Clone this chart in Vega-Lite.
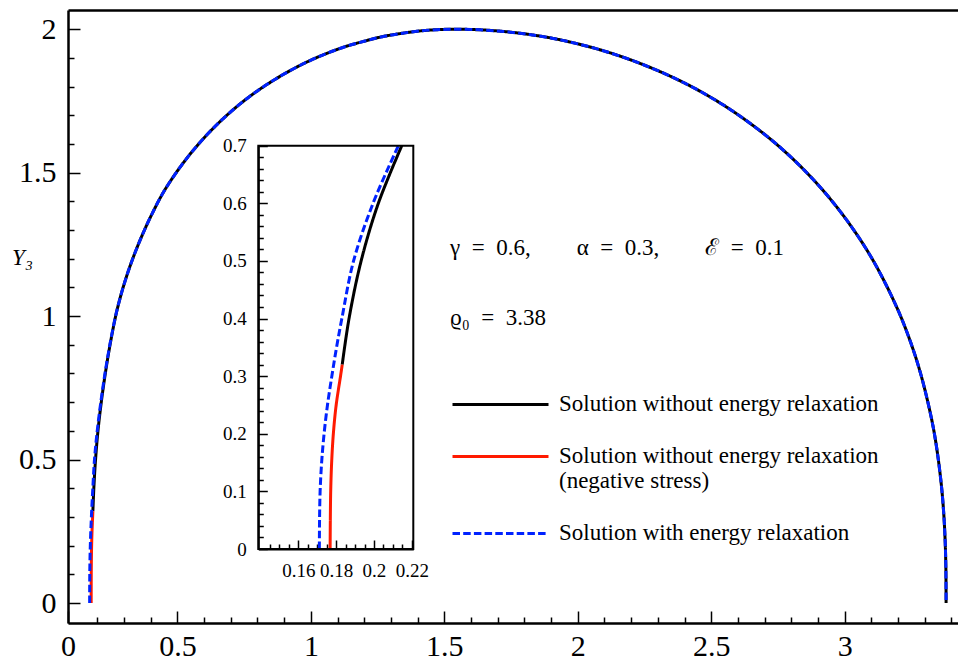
{
  "$schema": "https://vega.github.io/schema/vega-lite/v6.json",
  "width": 890,
  "height": 613,
  "autosize": "none",
  "padding": {"left": 68, "top": 10, "right": 0, "bottom": 39},
  "background": "white",
  "config": {
    "view": {"stroke": null},
    "text": {"font": "Liberation Serif"},
    "axis": {"domainColor": "black", "domainWidth": 2.5, "tickColor": "black", "tickWidth": 1.5, "labelColor": "black", "labelFont": "Liberation Serif", "grid": false, "titleColor": "black", "labelFlush": false, "labelOverlap": false, "labelBound": false},
    "legend": {"padding": 0}
  },
  "datasets": {
    "curve": [
      {"s": "Solution without energy relaxation", "x": 0.1832, "y": 0.32},
      {"s": "Solution without energy relaxation", "x": 0.1868, "y": 0.4},
      {"s": "Solution without energy relaxation", "x": 0.1932, "y": 0.5},
      {"s": "Solution without energy relaxation", "x": 0.2023, "y": 0.6},
      {"s": "Solution without energy relaxation", "x": 0.2147, "y": 0.7},
      {"s": "Solution without energy relaxation", "x": 0.2298, "y": 0.8},
      {"s": "Solution without energy relaxation", "x": 0.2475, "y": 0.9},
      {"s": "Solution without energy relaxation", "x": 0.2685, "y": 1.0},
      {"s": "Solution without energy relaxation", "x": 0.2815, "y": 1.05},
      {"s": "Solution without energy relaxation", "x": 0.2965, "y": 1.1},
      {"s": "Solution without energy relaxation", "x": 0.3135, "y": 1.15},
      {"s": "Solution without energy relaxation", "x": 0.3325, "y": 1.2},
      {"s": "Solution without energy relaxation", "x": 0.3535, "y": 1.25},
      {"s": "Solution without energy relaxation", "x": 0.3765, "y": 1.3},
      {"s": "Solution without energy relaxation", "x": 0.4015, "y": 1.35},
      {"s": "Solution without energy relaxation", "x": 0.4496, "y": 1.435},
      {"s": "Solution without energy relaxation", "x": 0.5178, "y": 1.529},
      {"s": "Solution without energy relaxation", "x": 0.5859, "y": 1.607},
      {"s": "Solution without energy relaxation", "x": 0.654, "y": 1.673},
      {"s": "Solution without energy relaxation", "x": 0.7222, "y": 1.73},
      {"s": "Solution without energy relaxation", "x": 0.7904, "y": 1.779},
      {"s": "Solution without energy relaxation", "x": 0.8585, "y": 1.821},
      {"s": "Solution without energy relaxation", "x": 0.9267, "y": 1.858},
      {"s": "Solution without energy relaxation", "x": 0.9948, "y": 1.89},
      {"s": "Solution without energy relaxation", "x": 1.063, "y": 1.917},
      {"s": "Solution without energy relaxation", "x": 1.131, "y": 1.94},
      {"s": "Solution without energy relaxation", "x": 1.1993, "y": 1.958},
      {"s": "Solution without energy relaxation", "x": 1.2674, "y": 1.974},
      {"s": "Solution without energy relaxation", "x": 1.3356, "y": 1.985},
      {"s": "Solution without energy relaxation", "x": 1.4037, "y": 1.9935},
      {"s": "Solution without energy relaxation", "x": 1.4719, "y": 1.9984},
      {"s": "Solution without energy relaxation", "x": 1.54, "y": 2.0},
      {"s": "Solution without energy relaxation", "x": 1.632, "y": 1.998},
      {"s": "Solution without energy relaxation", "x": 1.724, "y": 1.992},
      {"s": "Solution without energy relaxation", "x": 1.816, "y": 1.982},
      {"s": "Solution without energy relaxation", "x": 1.908, "y": 1.968},
      {"s": "Solution without energy relaxation", "x": 2.0, "y": 1.949},
      {"s": "Solution without energy relaxation", "x": 2.092, "y": 1.926},
      {"s": "Solution without energy relaxation", "x": 2.184, "y": 1.898},
      {"s": "Solution without energy relaxation", "x": 2.276, "y": 1.865},
      {"s": "Solution without energy relaxation", "x": 2.368, "y": 1.827},
      {"s": "Solution without energy relaxation", "x": 2.46, "y": 1.783},
      {"s": "Solution without energy relaxation", "x": 2.552, "y": 1.732},
      {"s": "Solution without energy relaxation", "x": 2.644, "y": 1.673},
      {"s": "Solution without energy relaxation", "x": 2.736, "y": 1.606},
      {"s": "Solution without energy relaxation", "x": 2.828, "y": 1.528},
      {"s": "Solution without energy relaxation", "x": 2.92, "y": 1.437},
      {"s": "Solution without energy relaxation", "x": 3.012, "y": 1.329},
      {"s": "Solution without energy relaxation", "x": 3.104, "y": 1.198},
      {"s": "Solution without energy relaxation", "x": 3.196, "y": 1.029},
      {"s": "Solution without energy relaxation", "x": 3.2512, "y": 0.898},
      {"s": "Solution without energy relaxation", "x": 3.288, "y": 0.788},
      {"s": "Solution without energy relaxation", "x": 3.3248, "y": 0.645},
      {"s": "Solution without energy relaxation", "x": 3.3432, "y": 0.55},
      {"s": "Solution without energy relaxation", "x": 3.3616, "y": 0.417},
      {"s": "Solution without energy relaxation", "x": 3.3708, "y": 0.317},
      {"s": "Solution without energy relaxation", "x": 3.3763, "y": 0.22},
      {"s": "Solution without energy relaxation", "x": 3.3791, "y": 0.126},
      {"s": "Solution without energy relaxation", "x": 3.38, "y": 0},
      {"s": "Solution without energy relaxation (negative stress)", "x": 0.1768, "y": 0},
      {"s": "Solution without energy relaxation (negative stress)", "x": 0.1769, "y": 0.05},
      {"s": "Solution without energy relaxation (negative stress)", "x": 0.1771, "y": 0.1},
      {"s": "Solution without energy relaxation (negative stress)", "x": 0.1776, "y": 0.15},
      {"s": "Solution without energy relaxation (negative stress)", "x": 0.1785, "y": 0.2},
      {"s": "Solution without energy relaxation (negative stress)", "x": 0.18, "y": 0.25},
      {"s": "Solution without energy relaxation (negative stress)", "x": 0.1823, "y": 0.3},
      {"s": "Solution without energy relaxation (negative stress)", "x": 0.1832, "y": 0.32},
      {"s": "Solution with energy relaxation", "x": 0.1711, "y": 0},
      {"s": "Solution with energy relaxation", "x": 0.1712, "y": 0.05},
      {"s": "Solution with energy relaxation", "x": 0.1715, "y": 0.1},
      {"s": "Solution with energy relaxation", "x": 0.1723, "y": 0.15},
      {"s": "Solution with energy relaxation", "x": 0.1736, "y": 0.2},
      {"s": "Solution with energy relaxation", "x": 0.1754, "y": 0.25},
      {"s": "Solution with energy relaxation", "x": 0.1777, "y": 0.3},
      {"s": "Solution with energy relaxation", "x": 0.1802, "y": 0.35},
      {"s": "Solution with energy relaxation", "x": 0.183, "y": 0.4},
      {"s": "Solution with energy relaxation", "x": 0.1892, "y": 0.5},
      {"s": "Solution with energy relaxation", "x": 0.1995, "y": 0.6},
      {"s": "Solution with energy relaxation", "x": 0.2129, "y": 0.7},
      {"s": "Solution with energy relaxation", "x": 0.2285, "y": 0.8},
      {"s": "Solution with energy relaxation", "x": 0.2468, "y": 0.9},
      {"s": "Solution with energy relaxation", "x": 0.2682, "y": 1.0},
      {"s": "Solution with energy relaxation", "x": 0.2815, "y": 1.05},
      {"s": "Solution with energy relaxation", "x": 0.2965, "y": 1.1},
      {"s": "Solution with energy relaxation", "x": 0.3135, "y": 1.15},
      {"s": "Solution with energy relaxation", "x": 0.3325, "y": 1.2},
      {"s": "Solution with energy relaxation", "x": 0.3535, "y": 1.25},
      {"s": "Solution with energy relaxation", "x": 0.3765, "y": 1.3},
      {"s": "Solution with energy relaxation", "x": 0.4015, "y": 1.35},
      {"s": "Solution with energy relaxation", "x": 0.4496, "y": 1.435},
      {"s": "Solution with energy relaxation", "x": 0.5178, "y": 1.529},
      {"s": "Solution with energy relaxation", "x": 0.5859, "y": 1.607},
      {"s": "Solution with energy relaxation", "x": 0.654, "y": 1.673},
      {"s": "Solution with energy relaxation", "x": 0.7222, "y": 1.73},
      {"s": "Solution with energy relaxation", "x": 0.7904, "y": 1.779},
      {"s": "Solution with energy relaxation", "x": 0.8585, "y": 1.821},
      {"s": "Solution with energy relaxation", "x": 0.9267, "y": 1.858},
      {"s": "Solution with energy relaxation", "x": 0.9948, "y": 1.89},
      {"s": "Solution with energy relaxation", "x": 1.063, "y": 1.917},
      {"s": "Solution with energy relaxation", "x": 1.131, "y": 1.94},
      {"s": "Solution with energy relaxation", "x": 1.1993, "y": 1.958},
      {"s": "Solution with energy relaxation", "x": 1.2674, "y": 1.974},
      {"s": "Solution with energy relaxation", "x": 1.3356, "y": 1.985},
      {"s": "Solution with energy relaxation", "x": 1.4037, "y": 1.9935},
      {"s": "Solution with energy relaxation", "x": 1.4719, "y": 1.9984},
      {"s": "Solution with energy relaxation", "x": 1.54, "y": 2.0},
      {"s": "Solution with energy relaxation", "x": 1.632, "y": 1.998},
      {"s": "Solution with energy relaxation", "x": 1.724, "y": 1.992},
      {"s": "Solution with energy relaxation", "x": 1.816, "y": 1.982},
      {"s": "Solution with energy relaxation", "x": 1.908, "y": 1.968},
      {"s": "Solution with energy relaxation", "x": 2.0, "y": 1.949},
      {"s": "Solution with energy relaxation", "x": 2.092, "y": 1.926},
      {"s": "Solution with energy relaxation", "x": 2.184, "y": 1.898},
      {"s": "Solution with energy relaxation", "x": 2.276, "y": 1.865},
      {"s": "Solution with energy relaxation", "x": 2.368, "y": 1.827},
      {"s": "Solution with energy relaxation", "x": 2.46, "y": 1.783},
      {"s": "Solution with energy relaxation", "x": 2.552, "y": 1.732},
      {"s": "Solution with energy relaxation", "x": 2.644, "y": 1.673},
      {"s": "Solution with energy relaxation", "x": 2.736, "y": 1.606},
      {"s": "Solution with energy relaxation", "x": 2.828, "y": 1.528},
      {"s": "Solution with energy relaxation", "x": 2.92, "y": 1.437},
      {"s": "Solution with energy relaxation", "x": 3.012, "y": 1.329},
      {"s": "Solution with energy relaxation", "x": 3.104, "y": 1.198},
      {"s": "Solution with energy relaxation", "x": 3.196, "y": 1.029},
      {"s": "Solution with energy relaxation", "x": 3.2512, "y": 0.898},
      {"s": "Solution with energy relaxation", "x": 3.288, "y": 0.788},
      {"s": "Solution with energy relaxation", "x": 3.3248, "y": 0.645},
      {"s": "Solution with energy relaxation", "x": 3.3432, "y": 0.55},
      {"s": "Solution with energy relaxation", "x": 3.3616, "y": 0.417},
      {"s": "Solution with energy relaxation", "x": 3.3708, "y": 0.317},
      {"s": "Solution with energy relaxation", "x": 3.3763, "y": 0.22},
      {"s": "Solution with energy relaxation", "x": 3.3791, "y": 0.126},
      {"s": "Solution with energy relaxation", "x": 3.38, "y": 0}
    ]
  },
  "layer": [
    {
      "layer": [
        {
          "data": {"name": "curve"},
          "mark": {"type": "line", "strokeWidth": 3, "interpolate": "catmull-rom"},
          "encoding": {
            "x": {"field": "x", "type": "quantitative", "scale": {"domain": [0.09, 3.4246], "nice": false, "zero": false},
              "axis": {"orient": "bottom", "title": null, "values": [0.09, 0.5, 1, 1.5, 2, 2.5, 3], "format": "~g", "labelExpr": "datum.value < 0.2 ? '0' : datum.label", "tickSize": -12, "labelPadding": 20, "labelFontSize": 30, "labelBaseline": "top"}},
            "y": {"field": "y", "type": "quantitative", "scale": {"domain": [-0.0697, 2.067], "nice": false, "zero": false},
              "axis": {"orient": "left", "values": [0, 0.5, 1, 1.5, 2], "format": "~g", "tickSize": -12, "labelPadding": 24, "labelFontSize": 30, "labelBaseline": "middle",
                "title": "Y₃", "titleAngle": 0, "titleX": -46, "titleY": 247, "titleFont": "Liberation Serif", "titleFontStyle": "italic", "titleFontWeight": "normal", "titleFontSize": 23, "titleAlign": "center", "titleBaseline": "middle"}},
            "color": {"field": "s", "type": "nominal",
              "scale": {"domain": ["Solution without energy relaxation", "Solution without energy relaxation (negative stress)", "Solution with energy relaxation"], "range": ["#000000", "#ff1a00", "#0022ff"]},
              "legend": {"orient": "none", "legendX": 463, "legendY": 389, "title": null, "symbolType": "M-15,-1H1", "symbolSize": 144, "symbolStrokeWidth": 3, "labelFont": "Liberation Serif", "labelFontSize": 23, "labelColor": "black", "labelOffset": 5, "labelBaseline": "alphabetic", "labelLimit": 500, "rowPadding": 28,
                "labelExpr": "datum.label == 'Solution without energy relaxation (negative stress)' ? ['Solution without energy relaxation', '(negative stress)'] : datum.label"}},
            "strokeDash": {"field": "s", "type": "nominal",
              "scale": {"domain": ["Solution without energy relaxation", "Solution without energy relaxation (negative stress)", "Solution with energy relaxation"], "range": [[1, 0], [1, 0], [7.5, 3.2]]}}
          }
        },
        {
          "data": {"values": [{}]},
          "mark": {"type": "text", "align": "left", "baseline": "middle", "font": "Liberation Serif", "fontSize": 23, "color": "black", "text": "γ\u2002=\u20020.6,\u2003\u2003α\u2002=\u20020.3,\u2003\u2003ℰ\u2002=\u20020.1"},
          "encoding": {
            "x": {"datum": 1.5216, "type": "quantitative", "axis": {"orient": "bottom", "title": null, "values": [0.2, 0.3, 0.4, 0.6, 0.7, 0.8, 0.9, 1.1, 1.2, 1.3, 1.4, 1.6, 1.7, 1.8, 1.9, 2.1, 2.2, 2.3, 2.4, 2.6, 2.7, 2.8, 2.9, 3.1, 3.2, 3.3, 3.4], "labels": false, "domain": false, "tickSize": -6}},
            "y": {"datum": 1.2376, "type": "quantitative", "axis": {"orient": "left", "title": null, "values": [0.1, 0.2, 0.3, 0.4, 0.6, 0.7, 0.8, 0.9, 1.1, 1.2, 1.3, 1.4, 1.6, 1.7, 1.8, 1.9], "labels": false, "domain": false, "tickSize": -6}}
          }
        },
        {
          "data": {"values": [{}]},
          "mark": {"type": "text", "align": "left", "baseline": "middle", "font": "Liberation Serif", "fontSize": 23, "color": "black", "text": "ϱ₀\u2002=\u20023.38"},
          "encoding": {
            "x": {"datum": 1.5216, "type": "quantitative", "axis": {"orient": "top", "title": null, "labels": false, "ticks": false, "domain": true, "domainWidth": 2.5}},
            "y": {"datum": 0.9935, "type": "quantitative", "axis": null}
          }
        }
      ],
      "resolve": {"axis": {"x": "independent", "y": "independent"}}
    },
    {
      "layer": [
        {
          "data": {"name": "curve"},
          "transform": [{"filter": "datum.x < 0.25 && datum.y <= 0.7"}],
          "mark": {"type": "line", "strokeWidth": 3, "interpolate": "catmull-rom"},
          "encoding": {
            "x": {"field": "x", "type": "quantitative", "scale": {"domain": [0.1388, 0.2208], "range": [190.3, 345.3], "nice": false, "zero": false},
              "axis": {"orient": "bottom", "offset": -74, "title": null, "values": [0.16, 0.18, 0.2, 0.22], "format": "~g", "tickSize": -9, "labelPadding": 21, "labelFontSize": 19, "labelBaseline": "top", "domainWidth": 2}},
            "y": {"field": "y", "type": "quantitative", "scale": {"domain": [0, 0.7], "range": [539, 135.7], "nice": false, "zero": false},
              "axis": {"orient": "left", "offset": -190.3, "title": null, "values": [0, 0.1, 0.2, 0.3, 0.4, 0.5, 0.6, 0.7], "format": "~g", "tickSize": -9, "labelPadding": 21, "labelFontSize": 19, "labelBaseline": "middle", "domainWidth": 2}},
            "color": {"field": "s", "type": "nominal"},
            "strokeDash": {"field": "s", "type": "nominal"}
          }
        },
        {
          "data": {"values": [{}]},
          "mark": {"type": "rect", "filled": false, "stroke": "black", "strokeWidth": 2},
          "encoding": {
            "x": {"datum": 0.1388, "type": "quantitative", "axis": {"orient": "bottom", "offset": -74, "title": null, "values": [0.145, 0.15, 0.155, 0.165, 0.17, 0.175, 0.185, 0.19, 0.195, 0.205, 0.21, 0.215], "labels": false, "domain": false, "tickSize": -5}},
            "x2": {"datum": 0.2208},
            "y": {"datum": 0, "type": "quantitative", "axis": {"orient": "left", "offset": -190.3, "title": null, "values": [0.02, 0.04, 0.06, 0.08, 0.12, 0.14, 0.16, 0.18, 0.22, 0.24, 0.26, 0.28, 0.32, 0.34, 0.36, 0.38, 0.42, 0.44, 0.46, 0.48, 0.52, 0.54, 0.56, 0.58, 0.62, 0.64, 0.66, 0.68], "labels": false, "domain": false, "tickSize": -5}},
            "y2": {"datum": 0.7}
          }
        }
      ],
      "resolve": {"axis": {"x": "independent", "y": "independent"}}
    }
  ],
  "resolve": {"scale": {"x": "independent", "y": "independent"}}
}
